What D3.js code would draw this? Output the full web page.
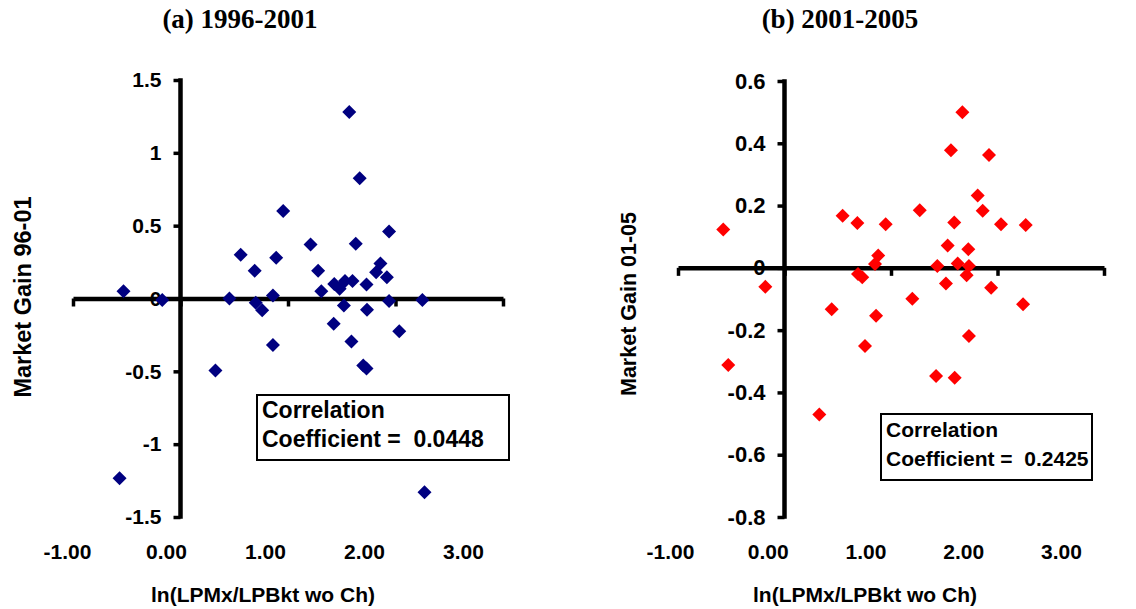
<!DOCTYPE html>
<html>
<head>
<meta charset="utf-8">
<script src="https://cdn.jsdelivr.net/npm/d3@7"></script>
<style>
  html, body { margin: 0; padding: 0; background: #fff; }
  svg { display: block; }
  .tick text, .lbl { font-family: "Liberation Sans", Arial, sans-serif; font-weight: bold; fill: #000; }
  .title { font-family: "Liberation Serif", "Times New Roman", serif; font-weight: bold; }
</style>
</head>
<body>
<svg id="chart" width="1136" height="609"></svg>
<script>
// Shared x axis ticks
const xTickValues = [-1, 0, 1, 2, 3];
const xTickLabels = ["-1.00", "0.00", "1.00", "2.00", "3.00"];

// Panel (a): 1996-2001
const titleA = "(a) 1996-2001";
const yTitleA = "Market Gain 96-01";
const yTicksA = [-1.5, -1, -0.5, 0, 0.5, 1, 1.5];
const yLabelsA = ["-1.5", "-1", "-0.5", "0", "0.5", "1", "1.5"];
const corrA = "0.0448";
const xA = [-0.53, -0.17, 0.455, 0.56, 0.69, 0.89, 0.955, 0.86, 0.70, 0.76,
            1.57, 1.667, 1.21, 1.63, 1.94, 1.28, 1.86, 1.82, 1.92, 1.31,
            1.43, 1.48, 1.53, 1.60, 1.73, 1.52, 1.735, 1.94, 2.25, 1.425,
            1.59, 2.035, 1.70, 1.73, 2.27, 0.325, 0.86, -0.567];
const yA = [0.05, -0.01, 0.00, 0.30, 0.19, 0.28, 0.60, 0.02, -0.03, -0.08,
            1.28, 0.826, 0.37, 0.376, 0.46, 0.19, 0.24, 0.18, 0.146, 0.05,
            0.10, 0.067, 0.12, 0.12, 0.096, -0.048, -0.078, -0.018, -0.01, -0.174,
            -0.295, -0.224, -0.46, -0.48, -1.33, -0.495, -0.32, -1.234];

// Panel (b): 2001-2005
const titleB = "(b) 2001-2005";
const yTitleB = "Market Gain 01-05";
const yTicksB = [-0.8, -0.6, -0.4, -0.2, 0, 0.2, 0.4, 0.6];
const yLabelsB = ["-0.8", "-0.6", "-0.4", "-0.2", "0", "0.2", "0.4", "0.6"];
const corrB = "0.2425";
const xB = [-0.575, -0.18, 0.546, 0.684, 0.69, 0.73, 0.85, 0.88, 0.443, 0.95,
            1.27, 1.67, 1.563, 1.92, 1.814, 1.861, 1.594, 2.033, 2.265, 1.532,
            1.726, 1.435, 1.626, 1.732, 1.71, 1.516, 1.94, 1.20, 2.24, 0.86,
            0.756, 1.732, 1.423, 1.598, -0.528, 0.327];
const yB = [0.123, -0.061, 0.167, 0.144, -0.02, -0.03, 0.012, 0.04, -0.133, 0.14,
            0.185, 0.50, 0.378, 0.362, 0.232, 0.183, 0.146, 0.14, 0.138, 0.072,
            0.06, 0.006, 0.014, 0.006, -0.024, -0.05, -0.064, -0.099, -0.117, -0.154,
            -0.251, -0.219, -0.347, -0.353, -0.312, -0.471];

const svg = d3.select("#chart");
const diamond = "M0,-7L7,0L0,7L-7,0Z";

function drawPanel(cfg) {
  const x = d3.scaleLinear().domain([xTickValues[0], xTickValues[xTickValues.length - 1]]).range(cfg.xRange);
  const xLab = d3.scaleLinear().domain(x.domain()).range(cfg.xLabelRange);
  const y = d3.scaleLinear().domain([cfg.yTicks[0], cfg.yTicks[cfg.yTicks.length - 1]]).range(cfg.yRange);
  const g = svg.append("g");
  const f = cfg.fonts;

  // Title
  g.append("text").attr("class", "title")
    .attr("x", cfg.titleX).attr("y", 28)
    .attr("text-anchor", "middle").attr("font-size", f.title)
    .text(cfg.title);

  // Y axis through x = 0 (ticks and labels from the axis generator)
  const yAxis = d3.axisLeft(y).tickValues(cfg.yTicks)
    .tickFormat((d, i) => cfg.yLabels[i]).tickSizeInner(7).tickSizeOuter(0).tickPadding(12);
  const gy = g.append("g").attr("transform", `translate(${x(0)},0)`).call(yAxis);
  gy.select(".domain").remove();
  gy.selectAll(".tick line").attr("stroke", "#000").attr("stroke-width", 3.5);
  gy.selectAll(".tick text").attr("font-size", f.yTick);
  // solid spine for the y axis
  g.append("rect")
    .attr("x", x(0) - 2.25).attr("y", y.range()[1] - 1.75)
    .attr("width", 4.5).attr("height", y.range()[0] - y.range()[1] + 3.5)
    .attr("fill", "#000");

  // X axis through y = 0
  const xAxis = d3.axisBottom(x).tickValues(xTickValues).tickFormat("")
    .tickSizeInner(8).tickSizeOuter(0);
  const gx = g.append("g").attr("transform", `translate(0,${y(0)})`).call(xAxis);
  gx.select(".domain").attr("stroke", "#000").attr("stroke-width", 4.5);
  gx.selectAll(".tick line").attr("stroke", "#000").attr("stroke-width", 3.5);

  // X tick labels along the bottom
  const labAxis = d3.axisBottom(xLab).tickValues(xTickValues)
    .tickFormat((d, i) => xTickLabels[i]).tickSize(0).tickPadding(0);
  const gl = g.append("g").attr("transform", `translate(0,544)`).call(labAxis);
  gl.select(".domain").remove();
  gl.selectAll(".tick text").attr("font-size", 21);

  // Axis titles
  g.append("text").attr("class", "lbl")
    .attr("x", cfg.xTitleX).attr("y", 602).attr("text-anchor", "middle")
    .attr("font-size", 21).text("ln(LPMx/LPBkt wo Ch)");
  g.append("text").attr("class", "lbl")
    .attr("transform", `translate(${cfg.yTitleX},${cfg.yTitleY}) rotate(-90)`)
    .attr("text-anchor", "middle").attr("font-size", f.yTitle).text(cfg.yTitle);

  // Correlation box
  const b = cfg.box;
  g.append("rect").attr("x", b.x).attr("y", b.y).attr("width", b.w).attr("height", b.h)
    .attr("fill", "#fff").attr("stroke", "#000").attr("stroke-width", 2);
  g.append("text").attr("class", "lbl").attr("x", b.x + 5).attr("y", b.y + 23)
    .attr("font-size", f.box).text("Correlation");
  g.append("text").attr("class", "lbl").attr("x", b.x + 5).attr("y", b.y + 52)
    .attr("font-size", f.box).attr("xml:space", "preserve").text("Coefficient =  " + cfg.corr);

  // Points
  g.append("g").selectAll("path")
    .data(cfg.xs.map((v, i) => [v, cfg.ys[i]]))
    .join("path")
    .attr("d", diamond)
    .attr("transform", d => `translate(${x(d[0])},${y(d[1])})`)
    .attr("fill", cfg.color);
}

drawPanel({
  title: titleA, titleX: 240, yTitle: yTitleA, yTitleX: 31, yTitleY: 297,
  yTicks: yTicksA, yLabels: yLabelsA, corr: corrA,
  xs: xA, ys: yA, color: "#000080",
  xRange: [73, 503], xLabelRange: [67, 463], yRange: [517, 80], xTitleX: 263,
  box: { x: 257, y: 395, w: 252, h: 65 },
  fonts: { title: 27, yTick: 21, yTitle: 23.5, box: 23 }
});

drawPanel({
  title: titleB, titleX: 840, yTitle: yTitleB, yTitleX: 636, yTitleY: 304,
  yTicks: yTicksB, yLabels: yLabelsB, corr: corrB,
  xs: xB, ys: yB, color: "#ff0000",
  xRange: [678, 1104], xLabelRange: [670, 1061], yRange: [517, 81], xTitleX: 865,
  box: { x: 881, y: 414, w: 211, h: 66 },
  fonts: { title: 27, yTick: 22, yTitle: 21.5, box: 21 }
});
</script>
</body>
</html>
